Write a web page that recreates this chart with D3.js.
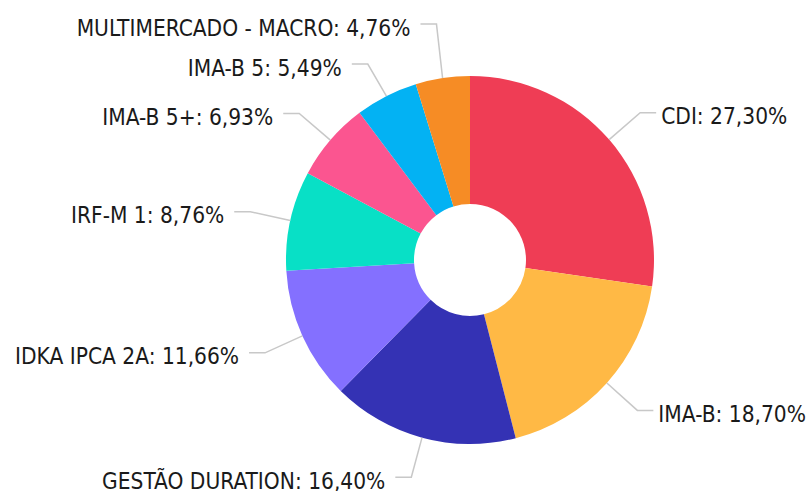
<!DOCTYPE html>
<html>
<head>
<meta charset="utf-8">
<script src="https://cdn.jsdelivr.net/npm/d3@7"></script>
<style>
  html, body { margin: 0; padding: 0; background: #fff; }
  svg text { font-family: "DejaVu Sans Condensed", "DejaVu Sans", sans-serif; font-stretch: condensed; }
</style>
</head>
<body>
<div id="container"></div>
<script>
  const categories = ['CDI', 'IMA-B', 'GESTÃO DURATION', 'IDKA IPCA 2A', 'IRF-M 1', 'IMA-B 5+', 'IMA-B 5', 'MULTIMERCADO - MACRO'];
  const values = [27.30, 18.70, 16.40, 11.66, 8.76, 6.93, 5.49, 4.76];
  const colors = ['#ef3d55', '#ffb945', '#3432b4', '#8470ff', '#08e0c6', '#fb5590', '#03b2f3', '#f68c25'];

  const width = 812;
  const height = 491;
  const cx = 470, cy = 260;
  const R = 184, r0 = 56;
  const ELBOW = 225, LEN2 = 16, MIN_GAP = 40;

  const svg = d3.select('#container').append('svg')
    .attr('width', width)
    .attr('height', height);

  const g = svg.append('g').attr('transform', `translate(${cx},${cy})`);

  const pie = d3.pie().sort(null).value(d => d.value);
  const arcs = pie(categories.map((c, i) => ({ name: c, value: values[i], color: colors[i] })));
  const arc = d3.arc().innerRadius(r0).outerRadius(R);

  g.selectAll('path.slice')
    .data(arcs)
    .join('path')
    .attr('class', 'slice')
    .attr('d', arc)
    .attr('fill', d => d.data.color);

  const fmt = v => v.toFixed(2).replace('.', ',') + '%';

  // natural label positions
  const labels = arcs.map(d => {
    const a = (d.startAngle + d.endAngle) / 2;
    return {
      d,
      a,
      right: Math.sin(a) >= 0,
      sx: Math.sin(a) * R, sy: -Math.cos(a) * R,
      ex: Math.sin(a) * ELBOW, ey: -Math.cos(a) * ELBOW
    };
  });

  // push overlapping labels apart on each side
  [true, false].forEach(side => {
    const list = labels.filter(l => l.right === side).sort((p, q) => p.ey - q.ey);
    for (let it = 0; it < 20; it++) {
      for (let i = 1; i < list.length; i++) {
        const gap = list[i].ey - list[i - 1].ey;
        if (gap < MIN_GAP) {
          const o = MIN_GAP - gap;
          list[i - 1].ey -= o * 0.75;
          list[i].ey += o * 0.25;
        }
      }
    }
  });

  g.selectAll('polyline.lbl-line')
    .data(labels)
    .join('polyline')
    .attr('class', 'lbl-line')
    .attr('fill', 'none')
    .attr('stroke', '#c8c8c8')
    .attr('stroke-width', 1.5)
    .attr('points', l => {
      const hx = l.ex + (l.right ? LEN2 : -LEN2);
      return `${l.sx},${l.sy} ${l.ex},${l.ey} ${hx},${l.ey}`;
    });

  g.selectAll('text.lbl')
    .data(labels)
    .join('text')
    .attr('class', 'lbl')
    .attr('x', l => l.ex + (l.right ? LEN2 + 5 : -LEN2 - 10))
    .attr('y', l => l.ey + 11.5)
    .attr('text-anchor', l => l.right ? 'start' : 'end')
    .attr('font-size', 22.5)
    .attr('fill', '#1a1a1a')
    .text(l => `${l.d.data.name}: ${fmt(l.d.data.value)}`);
</script>
</body>
</html>
